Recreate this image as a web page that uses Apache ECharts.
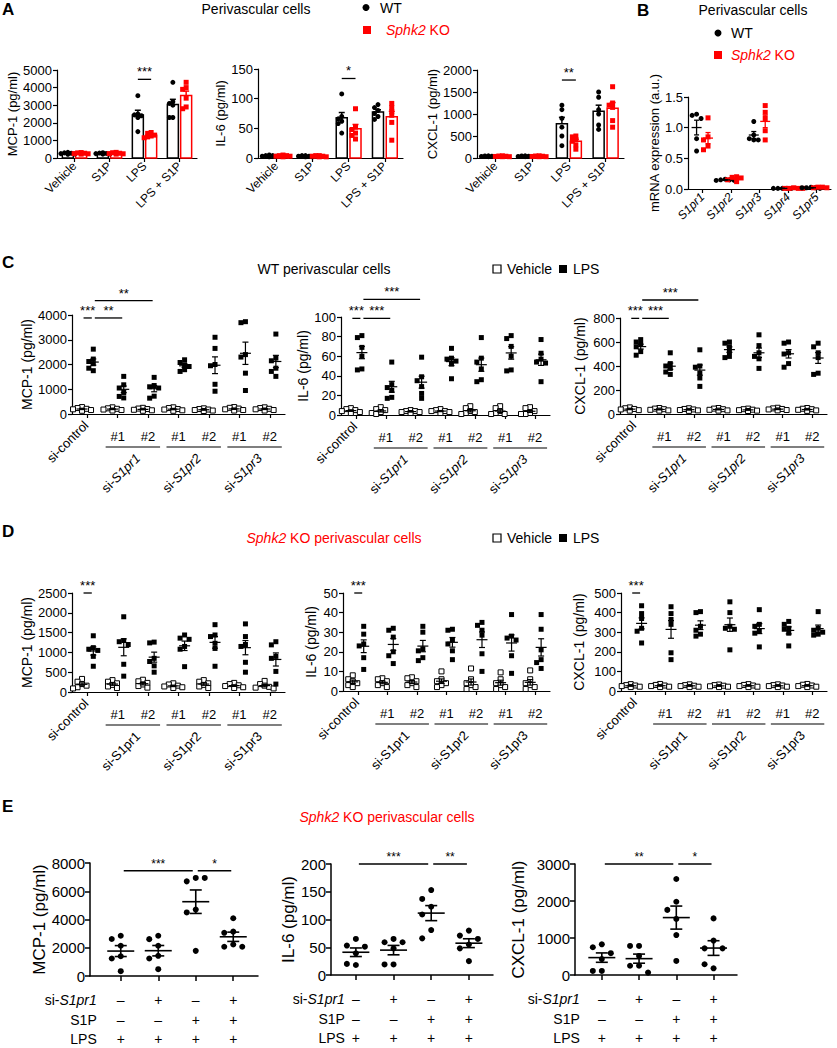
<!DOCTYPE html>
<html><head><meta charset="utf-8">
<script src="https://cdn.jsdelivr.net/npm/echarts@6/dist/echarts.min.js"></script>
<style>html,body{margin:0;padding:0;background:#fff}#c{width:837px;height:1048px}</style>
</head><body><div id="c"></div><script>
// ===== DATA =====
const aCats = ['Vehicle', 'S1P', 'LPS', 'LPS + S1P'];
const aMcp1WT = [[320,290,270,250,230,210],[300,280,260,250,230,220],[3540,2500,2450,2400,2300,1500],[4300,3200,3100,3000,2300,2300]];
const aMcp1KO = [[310,290,270,250,240,220],[320,300,270,250,240,220],[1450,1400,1300,1250,1200,1150],[4300,4000,3900,3400,2900,2800]];
const aIl6WT = [[5,4,4,3,3,2],[4,4,3,3,2,2],[108,70,66,62,58,42],[90,85,80,75,70,65]];
const aIl6KO = [[5,4,4,3,3,2],[4,4,3,3,2,2],[83,52,48,42,38,32],[92,85,78,72,60,30]];
const aCxclWT = [[50,45,40,35,30,30],[50,45,40,35,30,30],[1200,1100,900,700,500,280],[1500,1380,1100,1000,750,650]];
const aCxclKO = [[50,45,40,35,30,30],[50,45,40,35,30,30],[500,480,420,380,300,200],[1620,1250,1200,1150,850,700]];

const bCats = ['S1pr1', 'S1pr2', 'S1pr3', 'S1pr4', 'S1pr5'];
const bWT = [[1.22,1.2,1.15,0.82,0.62],[0.16,0.15,0.15,0.14,0.14],[1.1,0.88,0.82,0.8,0.8],[0.01,0.01,0.01,0.01,0.01],[0.03,0.02,0.02,0.02,0.01]];
const bKO = [[1.16,0.85,0.8,0.7,0.64],[0.2,0.19,0.18,0.15,0.12],[1.36,1.25,1.15,0.95,0.8],[0.02,0.01,0.01,0.01,0.01],[0.03,0.03,0.02,0.02,0.02]];

// C: WT perivascular cells, groups: si-control, si-S1pr1 #1, #2, si-S1pr2 #1, #2, si-S1pr3 #1, #2
const cdPairs = ['S1pr1', 'S1pr2', 'S1pr3'];
const cMcp1Veh = [[280,240,210,190,160,130],[270,230,210,180,160,140],[250,220,200,170,150,130],[270,240,200,180,150,130],[230,200,180,160,140,120],[280,250,220,190,160,140],[270,240,210,190,160,140]];
const cMcp1LPS = [[2620,2220,2120,2030,1850,1750],[1520,1180,1050,870,710,650],[1480,1150,1100,1050,720,640],[2190,2080,1990,1920,1790,1720],[3100,2650,2000,1950,1200,920],[3730,3690,2400,2300,1650,950],[3230,2260,2150,1850,1720,1520]];
const cIl6Veh = [[7,6,5,4,3,2],[8,6,5,3,2,1],[5,4,4,3,3,2],[6,5,4,4,3,2],[9,7,4,3,2,1],[9,7,4,2,1,1],[8,7,4,2,1,1]];
const cIl6LPS = [[81,79,69,60,47,46],[54,31,28,25,18,17],[59,39,35,29,22,17],[68,58,57,55,52,37],[79,58,54,47,36,34],[81,78,70,60,46,45],[77,63,57,54,53,34]];
const cCxclVeh = [[55,48,42,38,32,28],[50,45,40,35,30,28],[48,42,38,33,30,26],[50,45,40,35,30,28],[45,40,36,32,28,25],[52,47,42,38,33,30],[50,44,40,35,30,26]];
const cCxclLPS = [[620,600,580,560,520,490],[510,420,400,380,350,330],[535,400,390,340,300,230],[600,590,560,520,480,470],[660,570,510,480,460,380],[600,590,510,500,420,390],[590,560,510,470,340,330]];

// D: Sphk2 KO perivascular cells
const dMcp1Veh = [[330,260,200,160,120,90],[300,260,220,180,140,100],[310,270,230,190,150,110],[220,190,160,140,120,100],[300,260,220,180,140,100],[230,200,170,150,120,100],[280,200,160,130,110,90]];
const dMcp1LPS = [[1420,1120,1080,1050,900,650],[1900,1300,1270,1200,700,400],[1260,1240,850,770,660,500],[1440,1360,1330,1150,1080,640],[1700,1440,1400,1230,1100,650],[1720,1400,1200,1150,750,500],[1270,1190,900,850,520,200]];
const dIl6Veh = [[8,6,5,4,3,2],[6.5,6,5,4,3,2],[7,6.5,5,4,3,2],[10,6,5,4,3,2],[11.5,6,4,3,2,1],[9.5,6,4,3,2,1],[10.5,6,4,3,2,1]];
const dIl6LPS = [[33,29,24,23,17,11],[32,31,27.5,20,18,14],[33,30,21.5,20.5,17,15.5],[31.5,31,26,24,20.5,16],[35,33.5,31,28.5,19,10],[39,28,27,26,18,9],[39,31.5,21,16,14.5,11.5]];
const dCxclVeh = [[35,30,28,25,22,20],[36,31,28,25,22,20],[34,30,27,25,22,20],[33,30,27,24,22,20],[35,31,28,25,22,20],[34,30,28,25,22,20],[36,32,28,25,22,20]];
const dCxclLPS = [[435,395,370,320,305,245],[430,395,365,340,195,160],[405,400,330,310,290,280],[455,400,330,320,315,210],[415,340,330,305,295,225],[355,340,320,315,295,230],[405,320,310,300,290,285]];

// E: Sphk2 KO perivascular cells, 4 conditions
const eMcp1 = [[2850,2620,2140,1400,1240,340],[2850,2610,2140,1430,1240,480],[6940,6700,6940,4700,4500,1780],[4090,3140,3060,2230,2070,2070]];
const eIl6 = [[65,53,51,39,18,20],[65,59,59,48,19,19],[153,137,123,109,81,66],[80,71,65,55,48,25]];
const eCxcl = [[830,750,590,430,110,110],[785,785,515,250,250,65],[2595,1980,1760,1515,1080,380],[1530,930,720,720,180,290]];
const eRowNames = ['si-S1pr1', 'S1P', 'LPS'];
const eSigns = [['–','+','–','+'],['–','–','+','+'],['+','+','+','+']];

// ===== HELPERS =====
const F = '"Liberation Sans", Arial, Helvetica, sans-serif';
const RED = '#ff0000';
const option = {animation:false, backgroundColor:'#fff', textStyle:{fontFamily:F}, grid:[], xAxis:[], yAxis:[], series:[], graphic:[]};
const grids = [];

function mean(a){return a.reduce((s,v)=>s+v,0)/a.length;}
function sem(a){const m=mean(a);const sd=Math.sqrt(a.reduce((s,v)=>s+(v-m)*(v-m),0)/(a.length-1));return sd/Math.sqrt(a.length);}

function addGrid(p){
  const gi = option.grid.length;
  grids.push(p);
  option.grid.push({left:p.left, top:p.top, width:p.width, height:p.height});
  const lw = p.alw || 1.2;
  const axLine = {show:true, onZero:false, lineStyle:{color:'#000', width:lw}};
  option.xAxis.push({type:'value', gridIndex:gi, min:p.xmin, max:p.xmax,
    axisLine:axLine,
    axisTick:{show:true, customValues:p.xticks, length:p.tl||4, lineStyle:{color:'#000', width:lw}},
    axisLabel: p.xlabels ? {show:true, customValues:p.xticks, rotate:p.xrot||0,
      formatter:(v)=>p.xlabels[Math.round(v - p.xticks[0])] || '',
      fontSize:p.xfs||12, color:'#000', fontFamily:F, fontStyle:p.xitalic?'italic':'normal', margin:6} : {show:false},
    splitLine:{show:false}});
  option.yAxis.push({type:'value', gridIndex:gi, min:0, max:p.ymax, interval:p.yint,
    name:p.yname, nameLocation:'middle', nameGap:p.ngap, nameRotate:90,
    nameTextStyle:{fontSize:p.nfs||13, color:'#000', fontFamily:F},
    axisLine:axLine,
    axisTick:{show:true, length:p.tl||4, lineStyle:{color:'#000', width:lw}},
    axisLabel:{fontSize:p.yfs||13, color:'#000', margin:p.lm||5, fontFamily:F, formatter:p.yfmt || ((v)=>String(v))},
    splitLine:{show:false}});
  return gi;
}

function swarm(vals, pyu, d){
  const placed=[], offs=[];
  const cands=[0,-d,d,-2*d,2*d];
  vals.forEach((v,i)=>{
    const y=v*pyu;
    let best=0, bestD=-1;
    for(const dx of cands){
      let md=Infinity;
      placed.forEach(p=>{md=Math.min(md, Math.hypot(p[0]-dx,p[1]-y));});
      if(md>=d){best=dx;bestD=md;break;}
      if(md>bestD){bestD=md;best=dx;}
    }
    placed.push([best,y]); offs[i]=best;
  });
  return offs;
}

function addDots(gi, x, vals, sty){
  const p = grids[gi];
  const pxu = p.width/(p.xmax-p.xmin), pyu = p.height/p.ymax;
  const offs = swarm(vals, pyu, sty.spread || sty.size*0.9);
  option.series.push({type:'scatter', xAxisIndex:gi, yAxisIndex:gi, silent:true, z:3,
    symbol:sty.symbol, symbolSize:sty.size,
    itemStyle:{color:sty.fill, borderColor:sty.stroke, borderWidth:sty.bw||0, opacity:1},
    data: vals.map((v,i)=>[x + offs[i]/pxu, v])});
}

function addSummary(gi, items, sty){
  option.series.push({type:'custom', xAxisIndex:gi, yAxisIndex:gi, clip:false, silent:true, z:sty.z||4,
    data: items.map(it=>[it.x, mean(it.vals), sem(it.vals)]),
    renderItem:(params, api)=>{
      const it = items[params.dataIndex];
      const x=api.value(0), m=api.value(1), s=api.value(2);
      const c=api.coord([x,m]), lo=api.coord([x,m-s]), hi=api.coord([x,m+s]), base=api.coord([x,0]);
      const st={stroke:it.color, lineWidth:sty.lw||1.2, fill:null};
      const ch=[];
      if(sty.bar){
        ch.push({type:'rect', shape:{x:c[0]-sty.bw/2, y:c[1], width:sty.bw, height:base[1]-c[1]}, style:{fill:'#fff', stroke:it.color, lineWidth:sty.lw}});
      } else {
        ch.push({type:'line', shape:{x1:c[0]-sty.mw/2, y1:c[1], x2:c[0]+sty.mw/2, y2:c[1]}, style:st});
      }
      ch.push({type:'line', shape:{x1:c[0], y1:sty.bar?c[1]:lo[1], x2:c[0], y2:hi[1]}, style:st});
      ch.push({type:'line', shape:{x1:c[0]-sty.cw/2, y1:hi[1], x2:c[0]+sty.cw/2, y2:hi[1]}, style:st});
      if(!sty.bar) ch.push({type:'line', shape:{x1:c[0]-sty.cw/2, y1:lo[1], x2:c[0]+sty.cw/2, y2:lo[1]}, style:st});
      return {type:'group', children:ch};
    }});
}

function addSig(gi, items, fs){
  option.series.push({type:'custom', xAxisIndex:gi, yAxisIndex:gi, clip:false, silent:true, z:5,
    data: items.map(it=>[it.x1, it.y, it.x2]),
    renderItem:(params, api)=>{
      const it = items[params.dataIndex];
      const a=api.coord([it.x1,it.y]), b=api.coord([it.x2,it.y]);
      const inset = it.inset==null?1.5:it.inset;
      return {type:'group', children:[
        {type:'line', shape:{x1:a[0]+inset, y1:a[1], x2:b[0]-inset, y2:b[1]}, style:{stroke:'#000', lineWidth:1.3}},
        {type:'text', x:(a[0]+b[0])/2, y:a[1]-1, style:{text:it.t, fontSize:fs||13, fontFamily:F, fill:'#000', align:'center', verticalAlign:'bottom'}}
      ]};
    }});
}

function addGroupLabels(gi, italic, fs){
  const items=[{k:'ctrl', x:0}];
  cdPairs.forEach((n,i)=>items.push({k:'pair', x:1+2*i, x2:2+2*i, name:n}));
  const rich={n:{fontSize:fs, fontFamily:F, fill:'#000'}, i:{fontSize:fs, fontFamily:F, fill:'#000', fontStyle:'italic'}};
  option.series.push({type:'custom', xAxisIndex:gi, yAxisIndex:gi, clip:false, silent:true, z:5,
    data: items.map(it=>[it.x, 0]),
    renderItem:(params, api)=>{
      const it=items[params.dataIndex];
      const p=api.coord([it.x,0]);
      if(it.k==='ctrl'){
        return {type:'text', x:p[0]-1, y:p[1]+9, rotation:Math.PI/4,
          style:{text:'si-control', fontSize:fs, fontFamily:F, fill:'#000', align:'right', verticalAlign:'middle'}};
      }
      const q=api.coord([it.x2,0]);
      const mid=(p[0]+q[0])/2;
      const label = italic ? '{n|si-}{i|'+it.name+'}' : '{n|si-'+it.name+'}';
      return {type:'group', children:[
        {type:'text', x:p[0], y:p[1]+22, style:{text:'#1', fontSize:fs, fontFamily:F, fill:'#000', align:'center', verticalAlign:'middle'}},
        {type:'text', x:q[0], y:p[1]+22, style:{text:'#2', fontSize:fs, fontFamily:F, fill:'#000', align:'center', verticalAlign:'middle'}},
        {type:'line', shape:{x1:p[0]-12, y1:p[1]+33, x2:q[0]+12, y2:p[1]+33}, style:{stroke:'#000', lineWidth:1.2}},
        {type:'text', x:mid+5, y:p[1]+42, rotation:Math.PI/4,
          style:{text:label, rich:rich, fontSize:fs, fontFamily:F, fill:'#000', align:'right', verticalAlign:'middle'}}
      ]};
    }});
}

function addTable(gi, labelGap, fs){
  option.series.push({type:'custom', xAxisIndex:gi, yAxisIndex:gi, clip:false, silent:true, z:5,
    data: eRowNames.map(()=>[1,0]),
    renderItem:(params, api)=>{
      const r=params.dataIndex;
      const dy=[24,44,63][r];
      const ch=[];
      const p1=api.coord([1,0]);
      const rich={n:{fontSize:fs, fontFamily:F, fill:'#000'}, i:{fontSize:fs, fontFamily:F, fill:'#000', fontStyle:'italic'}};
      const nm = r===0 ? '{n|si-}{i|S1pr1}' : '{n|'+eRowNames[r]+'}';
      ch.push({type:'text', x:p1[0]-labelGap, y:p1[1]+dy, style:{text:nm, rich:rich, fontSize:fs, fontFamily:F, fill:'#000', align:'right', verticalAlign:'middle'}});
      eSigns[r].forEach((s,c)=>{
        const p=api.coord([c+1,0]);
        ch.push({type:'text', x:p[0], y:p1[1]+dy, style:{text:s, fontSize:fs, fontFamily:F, fill:'#000', align:'center', verticalAlign:'middle'}});
      });
      return {type:'group', children:ch};
    }});
}

// ===== PANEL A =====
const dotWT={symbol:'circle', size:5, fill:'#000'};
const dotKO={symbol:'rect', size:5, fill:RED};
function panelA(p, wt, ko, sig){
  const gi=addGrid(Object.assign({xmin:-0.5, xmax:3.5, xticks:[0,1,2,3], xlabels:aCats, xrot:45, xfs:12, nfs:13, yfs:13}, p));
  const items=[];
  aCats.forEach((c,i)=>{items.push({x:i-0.19, vals:wt[i], color:'#000'}); items.push({x:i+0.19, vals:ko[i], color:RED});});
  addSummary(gi, items, {bar:true, bw:11, lw:1.5, cw:6, z:2});
  aCats.forEach((c,i)=>{addDots(gi, i-0.19, wt[i], Object.assign({spread:3.5},dotWT)); addDots(gi, i+0.19, ko[i], Object.assign({spread:3.5},dotKO));});
  addSig(gi, sig, 13);
}
panelA({left:57, top:70, width:140, height:88, ymax:5000, yint:1000, yname:'MCP-1 (pg/ml)', ngap:38}, aMcp1WT, aMcp1KO, [{x1:1.81, x2:2.19, y:4470, t:'***', inset:0}]);
panelA({left:258, top:69, width:145, height:89, ymax:150, yint:50, yname:'IL-6 (pg/ml)', ngap:27}, aIl6WT, aIl6KO, [{x1:1.81, x2:2.19, y:134, t:'*', inset:0}]);
panelA({left:477, top:70, width:147, height:88, ymax:2000, yint:500, yname:'CXCL-1 (pg/ml)', ngap:36}, aCxclWT, aCxclKO, [{x1:1.81, x2:2.19, y:1772, t:'**', inset:0}]);

// ===== PANEL B =====
(function(){
  const gi=addGrid({left:688, top:97, width:143, height:92, xmin:-0.5, xmax:4.5, xticks:[0,1,2,3,4], xlabels:bCats, xrot:45, xitalic:true, xfs:12,
    ymax:1.5, yint:0.5, yname:'mRNA expression (a.u.)', ngap:26, nfs:13, yfs:13, yfmt:(v)=>v.toFixed(1)});
  bCats.forEach((c,i)=>{addDots(gi, i-0.2, bWT[i], dotWT); addDots(gi, i+0.2, bKO[i], dotKO);});
  const items=[];
  bCats.forEach((c,i)=>{items.push({x:i-0.2, vals:bWT[i], color:'#000'}); items.push({x:i+0.2, vals:bKO[i], color:RED});});
  addSummary(gi, items, {mw:10, cw:5, lw:1.3});
})();

// ===== PANELS C & D =====
const vehSty={symbol:'rect', size:5, fill:'#fff', stroke:'#000', bw:1};
const lpsSty={symbol:'rect', size:5, fill:'#000'};
function panelCD(p, veh, lps, sig, italic){
  const gi=addGrid(Object.assign({xmin:-0.5, xmax:6.5, xticks:[0,1,2,3,4,5,6], nfs:14, yfs:13}, p));
  veh.forEach((v,i)=>addDots(gi, i-0.17, v, vehSty));
  lps.forEach((v,i)=>addDots(gi, i+0.2, v, lpsSty));
  const items=[];
  veh.forEach((v,i)=>{items.push({x:i-0.17, vals:v, color:'#000'}); items.push({x:i+0.2, vals:lps[i], color:'#000'});});
  addSummary(gi, items, {mw:11, cw:6, lw:1.2});
  addSig(gi, sig, 13);
  addGroupLabels(gi, italic, 13);
}
panelCD({left:72, top:315, width:213, height:99, ymax:4000, yint:1000, yname:'MCP-1 (pg/ml)', ngap:36}, cMcp1Veh, cMcp1LPS,
  [{x1:-0.17, x2:0.2, y:3880, t:'***'}, {x1:0.2, x2:1.2, y:3880, t:'**'}, {x1:0.2, x2:2.2, y:4578, t:'**'}], true);
panelCD({left:341, top:317, width:209, height:98, ymax:100, yint:20, yname:'IL-6 (pg/ml)', ngap:30}, cIl6Veh, cIl6LPS,
  [{x1:-0.17, x2:0.2, y:98.6, t:'***'}, {x1:0.2, x2:1.2, y:98.6, t:'***'}, {x1:0.2, x2:2.2, y:118, t:'***'}], true);
panelCD({left:620, top:318, width:207, height:96, ymax:800, yint:200, yname:'CXCL-1 (pg/ml)', ngap:33}, cCxclVeh, cCxclLPS,
  [{x1:-0.17, x2:0.2, y:797, t:'***'}, {x1:0.2, x2:1.2, y:797, t:'***'}, {x1:0.2, x2:2.2, y:950, t:'***'}], true);

panelCD({left:72, top:593, width:213, height:99, ymax:2500, yint:500, yname:'MCP-1 (pg/ml)', ngap:38}, dMcp1Veh, dMcp1LPS,
  [{x1:-0.17, x2:0.2, y:2500, t:'***'}], false);
panelCD({left:343, top:593, width:207, height:98, ymax:50, yint:10, yname:'IL-6 (pg/ml)', ngap:25}, dIl6Veh, dIl6LPS,
  [{x1:-0.17, x2:0.2, y:50, t:'***'}], false);
panelCD({left:621, top:593, width:206, height:98, ymax:500, yint:100, yname:'CXCL-1 (pg/ml)', ngap:35}, dCxclVeh, dCxclLPS,
  [{x1:-0.17, x2:0.2, y:500, t:'***'}], false);

// ===== PANEL E =====
const dotE={symbol:'circle', size:6, fill:'#000'};
function panelE(p, data, sig, labelGap){
  const gi=addGrid(Object.assign({xticks:[1,2,3,4], nfs:17, yfs:15, alw:1.5, tl:5}, p));
  data.forEach((v,i)=>addDots(gi, i+1, v, Object.assign({spread:9}, dotE)));
  addSummary(gi, data.map((v,i)=>({x:i+1, vals:v, color:'#000'})), {mw:27, cw:12, lw:1.6});
  addSig(gi, sig, 12);
  addTable(gi, labelGap, 14);
}
panelE({left:90, top:863, width:168, height:113, xmin:0.18, xmax:4.66, ymax:8000, yint:2000, yname:'MCP-1 (pg/ml)', ngap:38}, eMcp1,
  [{x1:1, x2:3, y:7450, t:'***', inset:3}, {x1:3, x2:4, y:7450, t:'*', inset:2}], 24);
panelE({left:331, top:864, width:162, height:111, xmin:0.34, xmax:4.64, ymax:200, yint:50, yname:'IL-6 (pg/ml)', ngap:26}, eIl6,
  [{x1:1, x2:3, y:200, t:'***', inset:3}, {x1:3, x2:4, y:200, t:'**', inset:2}], 11);
panelE({left:575, top:864, width:162, height:111, xmin:0.28, xmax:4.63, ymax:3000, yint:1000, yname:'CXCL-1 (pg/ml)', ngap:48}, eCxcl,
  [{x1:1, x2:3, y:3000, t:'**', inset:3}, {x1:3, x2:4, y:3000, t:'*', inset:2}], 22);

// ===== TEXT: panel letters, titles, legends =====
function txt(x,y,t,o){return Object.assign({type:'text', x:x, y:y, silent:true, style:Object.assign({text:t, fontSize:14, fontFamily:F, fill:'#000', align:'left', verticalAlign:'middle'}, o||{})});}
const richI=(fs,col)=>({n:{fontSize:fs, fontFamily:F, fill:col}, i:{fontSize:fs, fontFamily:F, fill:col, fontStyle:'italic'}});
option.graphic = [
  txt(2,9,'A',{fontSize:17, fontWeight:'bold'}),
  txt(637,10,'B',{fontSize:17, fontWeight:'bold'}),
  txt(2,262,'C',{fontSize:17, fontWeight:'bold'}),
  txt(2,531,'D',{fontSize:17, fontWeight:'bold'}),
  txt(2,806,'E',{fontSize:17, fontWeight:'bold'}),
  txt(256,9,'Perivascular cells',{align:'center'}),
  {type:'circle', shape:{cx:366, cy:7.5, r:3.5}, style:{fill:'#000'}, silent:true},
  txt(380,7.5,'WT'),
  {type:'rect', shape:{x:363, y:26, width:8, height:8}, style:{fill:RED}, silent:true},
  txt(386,30,'{i|Sphk2}{n| KO}',{rich:richI(14,RED), fill:RED}),
  txt(753,10,'Perivascular cells',{align:'center'}),
  {type:'circle', shape:{cx:718, cy:33, r:3.5}, style:{fill:'#000'}, silent:true},
  txt(731,33,'WT'),
  {type:'rect', shape:{x:714, y:51, width:8, height:8}, style:{fill:RED}, silent:true},
  txt(731,55,'{i|Sphk2}{n| KO}',{rich:richI(14,RED), fill:RED}),
  txt(324,269,'WT perivascular cells',{align:'center'}),
  {type:'rect', shape:{x:493, y:265, width:8, height:8}, style:{fill:'#fff', stroke:'#000', lineWidth:1.2}, silent:true},
  txt(507,269,'Vehicle'),
  {type:'rect', shape:{x:559, y:265, width:8, height:8}, style:{fill:'#000'}, silent:true},
  txt(573,269,'LPS'),
  txt(334,538,'{i|Sphk2}{n| KO perivascular cells}',{rich:richI(14,RED), fill:RED, align:'center'}),
  {type:'rect', shape:{x:493, y:534, width:8, height:8}, style:{fill:'#fff', stroke:'#000', lineWidth:1.2}, silent:true},
  txt(507,538,'Vehicle'),
  {type:'rect', shape:{x:559, y:534, width:8, height:8}, style:{fill:'#000'}, silent:true},
  txt(573,538,'LPS'),
  txt(387,817,'{i|Sphk2}{n| KO perivascular cells}',{rich:richI(14,RED), fill:RED, align:'center'})
];

const chart = echarts.init(document.getElementById('c'), null, {renderer:'svg', width:837, height:1048});
chart.setOption(option);
</script></body></html>
